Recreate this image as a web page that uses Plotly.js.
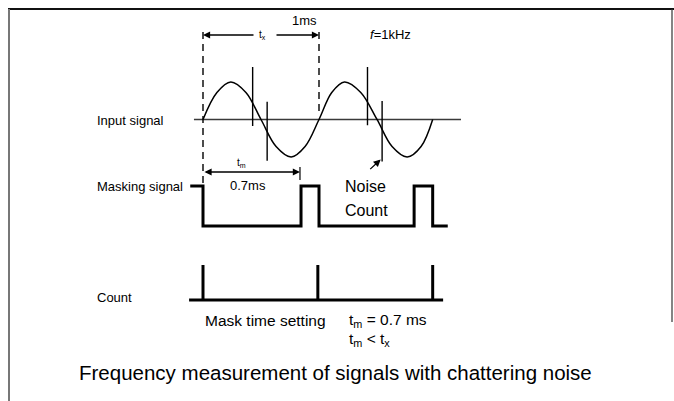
<!DOCTYPE html>
<html>
<head>
<meta charset="utf-8">
<script src="https://cdn.plot.ly/plotly-3.0.1.min.js"></script>
<style>html,body{margin:0;padding:0;background:#fff;}#chart{width:674px;height:401px;}</style>
</head>
<body>
<div id="chart"></div>
<script>
// ---- data (time in ms, signal levels in normalised units) ----
const sineT   = [0, 0.12, 0.24, 0.37, 0.5, 0.63, 0.76, 0.88, 1.0, 1.11, 1.22, 1.36, 1.5, 1.63, 1.76, 1.88, 1.98];
const sineV   = [0, 0.72, 1.0, 0.72, 0, -0.72, -1.0, -0.72, 0, 0.72, 1.0, 0.72, 0, -0.72, -1.0, -0.72, 0];
const axisT   = [-0.078, 2.224];
const noiseT      = [0.428, 0.553, 1.418, 1.544];
const noiseTop    = [1.40, 0.47, 1.40, 0.49];
const noiseBottom = [-0.17, -1.10, -0.15, -1.12];
const maskEdges  = [-0.11, 0, 0.845, 1.0, 1.82, 1.98, 2.11];
const maskLevels = [1, 0, 1, 0, 1, 0, 0];
const countBase   = [-0.12, 2.07];
const countPulses = [0, 0.99, 1.98];
const periodT = 1.0;      // tx = 1 ms
const maskT   = 0.836;    // tm marker
const labels = {
  input: "Input signal", mask: "Masking signal", count: "Count",
  period: "1ms", freq: "<i>f</i>=1kHz", tx: "t<sub>x</sub>", tm: "t<sub>m</sub>",
  tmVal: "0.7ms", noise1: "Noise", noise2: "Count",
  setting: "Mask time setting", eq1: "t<sub>m</sub> = 0.7 ms", eq2: "t<sub>m</sub> &lt; t<sub>x</sub>",
  title: "Frequency measurement of signals with chattering noise"
};

// ---- build traces ----
const nx = [], ny = [];
noiseT.forEach((t, i) => { nx.push(t, t, null); ny.push(noiseTop[i], noiseBottom[i], null); });
const cx = [countBase[0], countBase[1], null], cy = [0, 0, null];
countPulses.forEach(t => { cx.push(t, t, null); cy.push(0, 1, null); });

const traces = [
  {x: axisT, y: [0, 0], yaxis: 'y', mode: 'lines', line: {color: '#3a3a3a', width: 1.6}, hoverinfo: 'skip'},
  {x: sineT, y: sineV, yaxis: 'y', mode: 'lines', line: {color: '#000', width: 1.5, shape: 'spline', smoothing: 1}, hoverinfo: 'skip'},
  {x: nx, y: ny, yaxis: 'y', mode: 'lines', line: {color: '#000', width: 1.4}, hoverinfo: 'skip'},
  {x: maskEdges, y: maskLevels, yaxis: 'y2', mode: 'lines', line: {color: '#000', width: 3, shape: 'hv'}, hoverinfo: 'skip'},
  {x: cx, y: cy, yaxis: 'y3', mode: 'lines', line: {color: '#000', width: 3}, hoverinfo: 'skip'}
];

const W = 674, H = 401;
const py = p => 1 - p / H;
const hidden = {showgrid: false, zeroline: false, showticklabels: false, showline: false, ticks: '', fixedrange: true};
const F = 'Liberation Sans, Arial, sans-serif';

function txt(text, x, y, size, xanchor, xref) {
  return {text: text, x: x, y: y, xref: xref || 'x', yref: 'paper', showarrow: false,
          xanchor: xanchor || 'center', yanchor: 'middle', font: {size: size, color: '#000', family: F}};
}
function arrow(x, y, ax, ay, side) {
  return {text: '', x: x, y: y, xref: 'x', yref: 'paper', ax: ax, ay: ay, axref: 'pixel', ayref: 'pixel',
          showarrow: true, arrowhead: 2, arrowsize: 1.1, arrowwidth: 1.3, arrowcolor: '#000', arrowside: side || 'end'};
}

const layout = {
  width: W, height: H, margin: {l: 0, r: 0, t: 0, b: 0},
  paper_bgcolor: '#fff', plot_bgcolor: '#fff', showlegend: false,
  font: {family: F, color: '#000'},
  xaxis: Object.assign({range: [-1.75, 4.0603], domain: [0, 1]}, hidden),
  yaxis: Object.assign({range: [-1.5, 1.5], domain: [0.5617, 0.8423], anchor: 'x'}, hidden),
  yaxis2: Object.assign({range: [-0.2, 1.2], domain: [0.4165, 0.5561], anchor: 'x'}, hidden),
  yaxis3: Object.assign({range: [-0.2, 1.2], domain: [0.2344, 0.3566], anchor: 'x'}, hidden),
  shapes: [
    {type: 'line', xref: 'x', yref: 'paper', x0: 0, x1: 0, y0: py(32), y1: py(184), line: {color: '#000', width: 1.4, dash: '7px,5px'}},
    {type: 'line', xref: 'x', yref: 'paper', x0: periodT, x1: periodT, y0: py(32), y1: py(116), line: {color: '#000', width: 1.4, dash: '7px,5px'}},
    {type: 'line', xref: 'x', yref: 'paper', x0: maskT, x1: maskT, y0: py(167), y1: py(180), line: {color: '#000', width: 1.2}},
    {type: 'line', xref: 'paper', yref: 'paper', x0: 8 / W, x1: 1, y0: py(9), y1: py(9), line: {color: '#111', width: 2}},
    {type: 'line', xref: 'paper', yref: 'paper', x0: 9 / W, x1: 9 / W, y0: py(9), y1: 0, line: {color: '#777', width: 2}},
    {type: 'line', xref: 'paper', yref: 'paper', x0: 672 / W, x1: 672 / W, y0: py(9), y1: py(322), line: {color: '#333', width: 1.2}}
  ],
  annotations: [
    arrow(0, py(35), 52, 0),
    arrow(periodT, py(35), -44, 0),
    txt(labels.tx, 0.517, py(35), 10),
    txt(labels.period, 0.879, py(21), 13),
    txt(labels.freq, 1.612, py(34), 13),
    txt(labels.input, -0.931, py(120), 13, 'left'),
    txt(labels.mask, -0.931, py(186), 13, 'left'),
    txt(labels.count, -0.931, py(297), 13, 'left'),
    txt(labels.tm, 0.334, py(163), 10),
    arrow(maskT, py(172), -97, 0, 'end+start'),
    txt(labels.tmVal, 0.388, py(185), 13),
    txt(labels.noise1, 1.207, py(187), 16, 'left'),
    txt(labels.noise2, 1.207, py(210), 16, 'left'),
    arrow(1.532, py(159.5), -12, 11),
    txt(labels.setting, 0, py(320), 15.5, 'left'),
    txt(labels.eq1, 1.239, py(320), 15.5, 'left'),
    txt(labels.eq2, 1.239, py(339), 15.5, 'left'),
    txt(labels.title, 335 / W, py(372), 20.5, 'center', 'paper')
  ]
};

Plotly.newPlot('chart', traces, layout, {staticPlot: true, displayModeBar: false});
</script>
</body>
</html>
